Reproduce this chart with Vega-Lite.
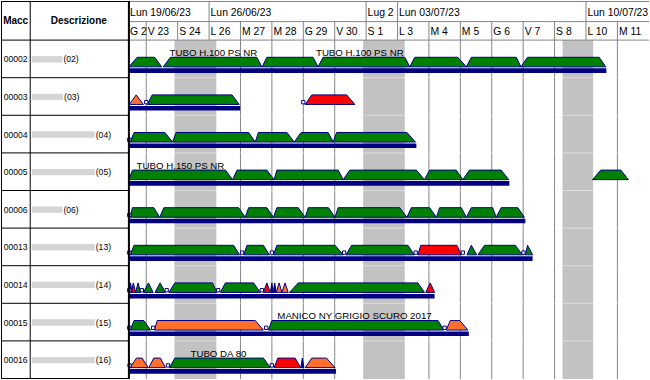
{
  "$schema": "https://vega.github.io/schema/vega-lite/v6.json",
  "width": 650,
  "height": 380,
  "autosize": {"type": "fit", "contains": "padding"},
  "padding": 0,
  "background": "white",
  "config": {"view": {"stroke": null}, "text": {"font": "Liberation Sans", "color": "#000000"}},
  "datasets": {
    "rows": [
      {"r": 0, "m": "00002", "d": "(02)", "mx": -4.6244, "bs": -3.64, "be": -2.67},
      {"r": 1, "m": "00003", "d": "(03)", "mx": -4.6244, "bs": -3.64, "be": -2.65},
      {"r": 2, "m": "00004", "d": "(04)", "mx": -4.6244, "bs": -3.64, "be": -1.64},
      {"r": 3, "m": "00005", "d": "(05)", "mx": -4.6244, "bs": -3.64, "be": -1.64},
      {"r": 4, "m": "00006", "d": "(06)", "mx": -4.6244, "bs": -3.64, "be": -2.67},
      {"r": 5, "m": "00013", "d": "(13)", "mx": -4.6244, "bs": -3.64, "be": -1.64},
      {"r": 6, "m": "00014", "d": "(14)", "mx": -4.6244, "bs": -3.64, "be": -1.64},
      {"r": 7, "m": "00015", "d": "(15)", "mx": -4.6244, "bs": -3.64, "be": -1.64},
      {"r": 8, "m": "00016", "d": "(16)", "mx": -4.6244, "bs": -3.64, "be": -1.64}
    ],
    "days": [
      {"x": -0.5618, "lab": "G 22", "ty": -0.132, "y0": -0.492, "y1": 9.0132},
      {"x": 0, "lab": "V 23", "ty": -0.132, "y0": -0.492, "y1": 9.0132},
      {"x": 1, "lab": "S 24", "ty": -0.132, "y0": -0.492, "y1": 9.0132},
      {"x": 2, "lab": "L 26", "ty": -0.132, "y0": -0.492, "y1": 9.0132},
      {"x": 3, "lab": "M 27", "ty": -0.132, "y0": -0.492, "y1": 9.0132},
      {"x": 4, "lab": "M 28", "ty": -0.132, "y0": -0.492, "y1": 9.0132},
      {"x": 5, "lab": "G 29", "ty": -0.132, "y0": -0.492, "y1": 9.0132},
      {"x": 6, "lab": "V 30", "ty": -0.132, "y0": -0.492, "y1": 9.0132},
      {"x": 7, "lab": "S 1", "ty": -0.132, "y0": -0.492, "y1": 9.0132},
      {"x": 8, "lab": "L 3", "ty": -0.132, "y0": -0.492, "y1": 9.0132},
      {"x": 9, "lab": "M 4", "ty": -0.132, "y0": -0.492, "y1": 9.0132},
      {"x": 10, "lab": "M 5", "ty": -0.132, "y0": -0.492, "y1": 9.0132},
      {"x": 11, "lab": "G 6", "ty": -0.132, "y0": -0.492, "y1": 9.0132},
      {"x": 12, "lab": "V 7", "ty": -0.132, "y0": -0.492, "y1": 9.0132},
      {"x": 13, "lab": "S 8", "ty": -0.132, "y0": -0.492, "y1": 9.0132},
      {"x": 14, "lab": "L 10", "ty": -0.132, "y0": -0.492, "y1": 9.0132},
      {"x": 15, "lab": "M 11", "ty": -0.132, "y0": -0.492, "y1": 9.0132}
    ],
    "weeks": [
      {"x": -0.5618, "lab": "Lun 19/06/23", "ty": -0.643, "y0": -1.0397, "y1": -0.492},
      {"x": 2, "lab": "Lun 26/06/23", "ty": -0.643, "y0": -1.0397, "y1": -0.492},
      {"x": 7, "lab": "Lug 23", "ty": -0.643, "y0": -1.0397, "y1": -0.492},
      {"x": 8, "lab": "Lun 03/07/23", "ty": -0.643, "y0": -1.0397, "y1": -0.492},
      {"x": 14, "lab": "Lun 10/07/23", "ty": -0.643, "y0": -1.0397, "y1": -0.492}
    ],
    "weekend": [
      {"x": 0.898, "x2": 2.231, "y0": 0.0, "y1": 9.0132},
      {"x": 6.906, "x2": 8.23, "y0": 0.0, "y1": 9.0132},
      {"x": 13.254, "x2": 14.229, "y0": 0.0, "y1": 9.0132}
    ],
    "bars": [
      {"r": 0, "x": -0.55, "x2": 14.65}, {"r": 1, "x": -0.55, "x2": 2.99},
      {"r": 2, "x": -0.55, "x2": 8.6}, {"r": 3, "x": -0.55, "x2": 11.56},
      {"r": 4, "x": -0.55, "x2": 12.07}, {"r": 5, "x": -0.55, "x2": 12.3},
      {"r": 6, "x": -0.55, "x2": 9.18}, {"r": 7, "x": -0.55, "x2": 10.27},
      {"r": 8, "x": -0.55, "x2": 6.04}
    ],
    "jobs": [
      {"r": 0, "j": "a1", "k": "P", "x": [-0.55, -0.29, 0.27, 0.49], "h": [0, 1, 1, 0]},
      {"r": 0, "j": "a2", "k": "P", "x": [0.54, 0.77, 3.52, 3.68], "h": [0, 1, 1, 0]},
      {"r": 0, "j": "a3", "k": "P", "x": [3.69, 3.84, 5.31, 5.47], "h": [0, 1, 1, 0]},
      {"r": 0, "j": "a4", "k": "P", "x": [5.47, 5.63, 8.23, 8.39], "h": [0, 1, 1, 0]},
      {"r": 0, "j": "a5", "k": "P", "x": [8.39, 8.55, 9.92, 10.19], "h": [0, 1, 1, 0]},
      {"r": 0, "j": "a6", "k": "P", "x": [10.19, 10.35, 11.78, 11.93], "h": [0, 1, 1, 0]},
      {"r": 0, "j": "a7", "k": "P", "x": [11.93, 12.14, 14.42, 14.63], "h": [0, 1, 1, 0]},
      {"r": 1, "j": "b1", "k": "A", "x": [-0.54, -0.32, -0.09], "h": [0, 1, 0]},
      {"r": 1, "j": "b2", "k": "P", "x": [0.03, 0.19, 2.73, 2.96], "h": [0, 1, 1, 0]},
      {"r": 1, "j": "b3", "k": "F", "x": [5.06, 5.27, 6.38, 6.64], "h": [0, 1, 1, 0]},
      {"r": 2, "j": "c1", "k": "P", "x": [-0.51, -0.39, 0.59, 0.84], "h": [0, 1, 1, 0]},
      {"r": 2, "j": "c2", "k": "P", "x": [0.84, 0.95, 3.26, 3.47], "h": [0, 1, 1, 0]},
      {"r": 2, "j": "c3", "k": "P", "x": [3.47, 3.57, 4.48, 4.71], "h": [0, 1, 1, 0]},
      {"r": 2, "j": "c4", "k": "P", "x": [4.71, 4.93, 5.79, 5.95], "h": [0, 1, 1, 0]},
      {"r": 2, "j": "c5", "k": "P", "x": [5.95, 6.06, 8.3, 8.57], "h": [0, 1, 1, 0]},
      {"r": 3, "j": "d1", "k": "P", "x": [-0.55, -0.44, 2.52, 2.75], "h": [0, 1, 1, 0]},
      {"r": 3, "j": "d2", "k": "P", "x": [2.75, 2.89, 3.84, 4.07], "h": [0, 1, 1, 0]},
      {"r": 3, "j": "d3", "k": "P", "x": [4.07, 4.16, 6.11, 6.27], "h": [0, 1, 1, 0]},
      {"r": 3, "j": "d4", "k": "P", "x": [6.27, 6.48, 8.6, 8.86], "h": [0, 1, 1, 0]},
      {"r": 3, "j": "d5", "k": "P", "x": [8.86, 9.02, 9.87, 10.08], "h": [0, 1, 1, 0]},
      {"r": 3, "j": "d6", "k": "P", "x": [10.08, 10.29, 11.3, 11.54], "h": [0, 1, 1, 0]},
      {"r": 3, "j": "d7", "k": "P", "x": [14.21, 14.47, 15.11, 15.35], "h": [0, 1, 1, 0]},
      {"r": 4, "j": "e1", "k": "P", "x": [-0.51, -0.44, 0.24, 0.43], "h": [0, 1, 1, 0]},
      {"r": 4, "j": "e2", "k": "P", "x": [0.43, 0.56, 2.94, 3.15], "h": [0, 1, 1, 0]},
      {"r": 4, "j": "e3", "k": "P", "x": [3.15, 3.26, 3.84, 4.05], "h": [0, 1, 1, 0]},
      {"r": 4, "j": "e4", "k": "P", "x": [4.05, 4.16, 4.84, 5.06], "h": [0, 1, 1, 0]},
      {"r": 4, "j": "e5", "k": "P", "x": [5.06, 5.16, 5.8, 6.01], "h": [0, 1, 1, 0]},
      {"r": 4, "j": "e6", "k": "P", "x": [6.01, 6.11, 8.07, 8.3], "h": [0, 1, 1, 0]},
      {"r": 4, "j": "e7", "k": "P", "x": [8.3, 8.44, 9.02, 9.24], "h": [0, 1, 1, 0]},
      {"r": 4, "j": "e8", "k": "P", "x": [9.24, 9.34, 10.03, 10.19], "h": [0, 1, 1, 0]},
      {"r": 4, "j": "e9", "k": "P", "x": [10.19, 10.35, 11.03, 11.14], "h": [0, 1, 1, 0]},
      {"r": 4, "j": "e10", "k": "P", "x": [11.14, 11.3, 11.83, 12.04], "h": [0, 1, 1, 0]},
      {"r": 5, "j": "f1", "k": "P", "x": [-0.51, -0.39, 2.78, 2.97], "h": [0, 1, 1, 0]},
      {"r": 5, "j": "f2", "k": "P", "x": [3.1, 3.21, 3.73, 3.92], "h": [0, 1, 1, 0]},
      {"r": 5, "j": "f3", "k": "P", "x": [4.05, 4.16, 6.01, 6.27], "h": [0, 1, 1, 0]},
      {"r": 5, "j": "f4", "k": "P", "x": [6.36, 6.54, 8.33, 8.53], "h": [0, 1, 1, 0]},
      {"r": 5, "j": "f5", "k": "F", "x": [8.65, 8.74, 9.89, 10.03], "h": [0, 1, 1, 0]},
      {"r": 5, "j": "f6", "k": "P", "x": [10.21, 10.35, 10.52], "h": [0, 1, 0]},
      {"r": 5, "j": "f7", "k": "P", "x": [10.56, 10.77, 11.75, 11.97], "h": [0, 1, 1, 0]},
      {"r": 5, "j": "f8", "k": "P", "x": [12.07, 12.14, 12.3], "h": [0, 1, 0]},
      {"r": 6, "j": "g1", "k": "M", "x": [-0.55, -0.5, -0.45], "h": [0, 1, 0]},
      {"r": 6, "j": "g2", "k": "F", "x": [-0.48, -0.41, -0.34], "h": [0, 1, 0]},
      {"r": 6, "j": "g3", "k": "P", "x": [-0.34, -0.26, -0.18], "h": [0, 1, 0]},
      {"r": 6, "j": "g4", "k": "P", "x": [-0.09, 0.07, 0.22], "h": [0, 1, 0]},
      {"r": 6, "j": "g5", "k": "P", "x": [0.28, 0.44, 0.61], "h": [0, 1, 0]},
      {"r": 6, "j": "g6", "k": "P", "x": [0.72, 0.91, 2.11, 2.25], "h": [0, 1, 1, 0]},
      {"r": 6, "j": "g7", "k": "P", "x": [2.36, 2.52, 3.42, 3.63], "h": [0, 1, 1, 0]},
      {"r": 6, "j": "g8", "k": "F", "x": [3.73, 3.84, 3.95], "h": [0, 1, 0]},
      {"r": 6, "j": "g9", "k": "M", "x": [3.95, 4.0, 4.04], "h": [0, 1, 0]},
      {"r": 6, "j": "g10", "k": "M", "x": [4.04, 4.09, 4.14], "h": [0, 1, 0]},
      {"r": 6, "j": "g11", "k": "A", "x": [4.14, 4.23, 4.32], "h": [0, 1, 0]},
      {"r": 6, "j": "g12", "k": "A", "x": [4.32, 4.42, 4.52], "h": [0, 1, 0]},
      {"r": 6, "j": "g13", "k": "P", "x": [4.56, 4.84, 8.65, 8.86], "h": [0, 1, 1, 0]},
      {"r": 6, "j": "g14", "k": "F", "x": [8.9, 9.04, 9.18], "h": [0, 1, 0]},
      {"r": 7, "j": "h1", "k": "P", "x": [-0.51, -0.39, -0.08, 0.14], "h": [0, 1, 1, 0]},
      {"r": 7, "j": "h2", "k": "A", "x": [0.26, 0.35, 3.47, 3.73], "h": [0, 1, 1, 0]},
      {"r": 7, "j": "h3", "k": "P", "x": [3.89, 4.0, 9.29, 9.47], "h": [0, 1, 1, 0]},
      {"r": 7, "j": "h4", "k": "A", "x": [9.55, 9.68, 9.98, 10.24], "h": [0, 1, 1, 0]},
      {"r": 8, "j": "i1", "k": "A", "x": [-0.52, -0.31, -0.13, 0.06], "h": [0, 1, 1, 0]},
      {"r": 8, "j": "i2", "k": "A", "x": [0.08, 0.24, 0.45, 0.61], "h": [0, 1, 1, 0]},
      {"r": 8, "j": "i3", "k": "P", "x": [0.74, 0.91, 3.73, 3.95], "h": [0, 1, 1, 0]},
      {"r": 8, "j": "i4", "k": "F", "x": [4.07, 4.19, 4.74, 4.92], "h": [0, 1, 1, 0]},
      {"r": 8, "j": "i5", "k": "M", "x": [4.92, 4.97, 5.02], "h": [0, 1, 0]},
      {"r": 8, "j": "i6", "k": "A", "x": [5.06, 5.27, 5.74, 6.01], "h": [0, 1, 1, 0]}
    ],
    "squares": [
      {"r": 1, "x": 0.0}, {"r": 1, "x": 5.0},
      {"r": 2, "x": -0.54},
      {"r": 4, "x": -0.54},
      {"r": 5, "x": -0.54}, {"r": 5, "x": 3.05}, {"r": 5, "x": 4.0}, {"r": 5, "x": 6.3},
      {"r": 5, "x": 8.58}, {"r": 5, "x": 10.08}, {"r": 5, "x": 12.01},
      {"r": 6, "x": -0.54}, {"r": 6, "x": -0.14}, {"r": 6, "x": 0.65}, {"r": 6, "x": 2.29}, {"r": 6, "x": 3.68},
      {"r": 7, "x": -0.54}, {"r": 7, "x": 0.22}, {"r": 7, "x": 3.82}, {"r": 7, "x": 9.5},
      {"r": 8, "x": -0.53}, {"r": 8, "x": 0.69}, {"r": 8, "x": 4.0}
    ],
    "labels": [
      {"r": 0, "x": 2.14, "lab": "TUBO H.100 PS NR"},
      {"r": 0, "x": 6.8, "lab": "TUBO H.100 PS NR"},
      {"r": 3, "x": 1.09, "lab": "TUBO H.150 PS NR"},
      {"r": 7, "x": 6.63, "lab": "MANICO NY GRIGIO SCURO 2017"},
      {"r": 8, "x": 2.3, "lab": "TUBO DA 80"}
    ],
    "rlines": [
      {"r": 1, "x": -0.55, "x2": 16.0063}, {"r": 2, "x": -0.55, "x2": 16.0063},
      {"r": 3, "x": -0.55, "x2": 16.0063}, {"r": 4, "x": -0.55, "x2": 16.0063},
      {"r": 5, "x": -0.55, "x2": 16.0063}, {"r": 6, "x": -0.55, "x2": 16.0063},
      {"r": 7, "x": -0.55, "x2": 16.0063}, {"r": 8, "x": -0.55, "x2": 16.0063}
    ],
    "hlines": [
      {"r": -1.0265, "x": -0.55, "x2": 16.0063},
      {"r": -0.492, "x": -0.55, "x2": 16.0063},
      {"r": 0, "x": -0.55, "x2": 16.0063}
    ],
    "tlines": [
      {"r": -1.0265, "x": -4.6244, "x2": -0.55}, {"r": 0, "x": -4.6244, "x2": -0.55},
      {"r": 1, "x": -4.6244, "x2": -0.55}, {"r": 2, "x": -4.6244, "x2": -0.55},
      {"r": 3, "x": -4.6244, "x2": -0.55}, {"r": 4, "x": -4.6244, "x2": -0.55},
      {"r": 5, "x": -4.6244, "x2": -0.55}, {"r": 6, "x": -4.6244, "x2": -0.55},
      {"r": 7, "x": -4.6244, "x2": -0.55}, {"r": 8, "x": -4.6244, "x2": -0.55},
      {"r": 9, "x": -4.6244, "x2": -0.55}
    ],
    "vlines": [
      {"x": -4.6085, "y0": -1.0397, "y1": 9.0132, "w": 1},
      {"x": -3.6944, "y0": -1.0397, "y1": 9.0132, "w": 1}
    ],
    "border": [{"x": -0.5523, "y0": -1.0397, "y1": 9.0132}],
    "heads": [{"x": -4.158, "t": "Macc", "ty": -0.418}, {"x": -2.149, "t": "Descrizione", "ty": -0.418}]
  },
  "layer": [
    {
      "data": {"name": "days"},
      "mark": {"type": "rule", "color": "#858585", "strokeWidth": 1},
      "encoding": {
        "x": {"field": "x", "type": "quantitative", "scale": {"domain": [-4.6244, 16.0063], "nice": false, "zero": false}, "axis": null},
        "y": {"field": "y0", "type": "quantitative", "scale": {"domain": [-1.0397, 9.0132], "nice": false, "zero": false, "reverse": true}, "axis": null},
        "y2": {"field": "y1"}
      }
    },
    {
      "data": {"name": "weeks"},
      "mark": {"type": "rule", "color": "#858585", "strokeWidth": 1},
      "encoding": {
        "x": {"field": "x", "type": "quantitative", "axis": null},
        "y": {"field": "y0", "type": "quantitative", "axis": null},
        "y2": {"field": "y1"}
      }
    },
    {
      "data": {"name": "weekend"},
      "mark": {"type": "rect", "color": "#c2c2c2"},
      "encoding": {
        "x": {"field": "x", "type": "quantitative", "axis": null},
        "x2": {"field": "x2"},
        "y": {"field": "y0", "type": "quantitative", "axis": null},
        "y2": {"field": "y1"}
      }
    },
    {
      "data": {"name": "rlines"},
      "mark": {"type": "rule", "color": "#ffffff", "opacity": 0.45},
      "encoding": {
        "x": {"field": "x", "type": "quantitative", "axis": null},
        "x2": {"field": "x2"},
        "y": {"field": "r", "type": "quantitative", "axis": null}
      }
    },
    {
      "data": {"name": "hlines"},
      "mark": {"type": "rule", "color": "#858585", "strokeWidth": 1},
      "encoding": {
        "x": {"field": "x", "type": "quantitative", "axis": null},
        "x2": {"field": "x2"},
        "y": {"field": "r", "type": "quantitative", "axis": null}
      }
    },
    {
      "data": {"name": "bars"},
      "mark": {"type": "rect", "color": "#000080", "yOffset": 28.2, "y2Offset": 32.8},
      "encoding": {
        "x": {"field": "x", "type": "quantitative", "axis": null},
        "x2": {"field": "x2"},
        "y": {"field": "r", "type": "quantitative", "axis": null},
        "y2": {"field": "r"}
      }
    },
    {
      "data": {"name": "jobs"},
      "transform": [{"flatten": ["x", "h"]}],
      "mark": {"type": "area", "orient": "vertical", "stroke": "#000080", "strokeWidth": 1, "opacity": 1, "yOffset": {"expr": "26.75 - 9.55 * datum.h"}, "y2Offset": 26.75},
      "encoding": {
        "x": {"field": "x", "type": "quantitative", "axis": null},
        "y": {"field": "r", "type": "quantitative", "stack": null, "axis": null},
        "y2": {"field": "r"},
        "color": {"field": "k", "type": "nominal", "scale": {"domain": ["P", "A", "F", "M"], "range": ["#008000", "#ff6f2c", "#ff0000", "#000080"]}, "legend": null},
        "detail": {"field": "j", "type": "nominal"}
      }
    },
    {
      "data": {"name": "squares"},
      "mark": {"type": "point", "shape": "square", "filled": true, "fill": "#ffffff", "stroke": "#000080", "strokeWidth": 1, "size": 11, "opacity": 1, "yOffset": 24.5},
      "encoding": {
        "x": {"field": "x", "type": "quantitative", "axis": null},
        "y": {"field": "r", "type": "quantitative", "axis": null}
      }
    },
    {
      "data": {"name": "labels"},
      "mark": {"type": "text", "fontSize": 9.7, "align": "center", "baseline": "alphabetic", "yOffset": 15.8},
      "encoding": {
        "x": {"field": "x", "type": "quantitative", "axis": null},
        "y": {"field": "r", "type": "quantitative", "axis": null},
        "text": {"field": "lab"}
      }
    },
    {
      "data": {"name": "days"},
      "transform": [{"filter": "datum.x >= 0"}],
      "mark": {"type": "text", "fontSize": 10.4, "align": "left", "baseline": "alphabetic", "dx": 1.5, "limit": 29, "ellipsis": "\u200b"},
      "encoding": {
        "x": {"field": "x", "type": "quantitative", "axis": null},
        "y": {"field": "ty", "type": "quantitative", "axis": null},
        "text": {"field": "lab"}
      }
    },
    {
      "data": {"name": "days"},
      "transform": [{"filter": "datum.x < 0"}],
      "mark": {"type": "text", "fontSize": 10.4, "align": "left", "baseline": "alphabetic", "dx": 1.5, "limit": 17.3, "ellipsis": "\u200b"},
      "encoding": {
        "x": {"field": "x", "type": "quantitative", "axis": null},
        "y": {"field": "ty", "type": "quantitative", "axis": null},
        "text": {"field": "lab"}
      }
    },
    {
      "data": {"name": "weeks"},
      "transform": [{"filter": "datum.lab != 'Lug 23'"}],
      "mark": {"type": "text", "fontSize": 10.4, "align": "left", "baseline": "alphabetic", "dx": 1.5},
      "encoding": {
        "x": {"field": "x", "type": "quantitative", "axis": null},
        "y": {"field": "ty", "type": "quantitative", "axis": null},
        "text": {"field": "lab"}
      }
    },
    {
      "data": {"name": "weeks"},
      "transform": [{"filter": "datum.lab == 'Lug 23'"}],
      "mark": {"type": "text", "fontSize": 10.4, "align": "left", "baseline": "alphabetic", "dx": 1.5, "limit": 29.5, "ellipsis": "\u200b"},
      "encoding": {
        "x": {"field": "x", "type": "quantitative", "axis": null},
        "y": {"field": "ty", "type": "quantitative", "axis": null},
        "text": {"field": "lab"}
      }
    },
    {
      "data": {"name": "rows"},
      "mark": {"type": "rect", "color": "#d5d5d5", "yOffset": 16, "y2Offset": 22.4},
      "encoding": {
        "x": {"field": "bs", "type": "quantitative", "axis": null},
        "x2": {"field": "be"},
        "y": {"field": "r", "type": "quantitative", "axis": null},
        "y2": {"field": "r"}
      }
    },
    {
      "data": {"name": "rows"},
      "mark": {"type": "text", "fontSize": 8.6, "align": "left", "baseline": "alphabetic", "dx": 2.7, "yOffset": 22.4},
      "encoding": {
        "x": {"field": "mx", "type": "quantitative", "axis": null},
        "y": {"field": "r", "type": "quantitative", "axis": null},
        "text": {"field": "m"}
      }
    },
    {
      "data": {"name": "rows"},
      "mark": {"type": "text", "fontSize": 8.6, "align": "left", "baseline": "alphabetic", "dx": 1, "yOffset": 22.4},
      "encoding": {
        "x": {"field": "be", "type": "quantitative", "axis": null},
        "y": {"field": "r", "type": "quantitative", "axis": null},
        "text": {"field": "d"}
      }
    },
    {
      "data": {"name": "heads"},
      "mark": {"type": "text", "fontSize": 10, "fontWeight": "bold", "align": "center", "baseline": "alphabetic"},
      "encoding": {
        "x": {"field": "x", "type": "quantitative", "axis": null},
        "y": {"field": "ty", "type": "quantitative", "axis": null},
        "text": {"field": "t"}
      }
    },
    {
      "data": {"name": "tlines"},
      "mark": {"type": "rule", "color": "#000000", "strokeWidth": 1},
      "encoding": {
        "x": {"field": "x", "type": "quantitative", "axis": null},
        "x2": {"field": "x2"},
        "y": {"field": "r", "type": "quantitative", "axis": null}
      }
    },
    {
      "data": {"name": "vlines"},
      "mark": {"type": "rule", "color": "#000000", "strokeWidth": 1},
      "encoding": {
        "x": {"field": "x", "type": "quantitative", "axis": null},
        "y": {"field": "y0", "type": "quantitative", "axis": null},
        "y2": {"field": "y1"}
      }
    },
    {
      "data": {"name": "border"},
      "mark": {"type": "rule", "color": "#000000", "strokeWidth": 2},
      "encoding": {
        "x": {"field": "x", "type": "quantitative", "axis": null},
        "y": {"field": "y0", "type": "quantitative", "axis": null},
        "y2": {"field": "y1"}
      }
    }
  ]
}
